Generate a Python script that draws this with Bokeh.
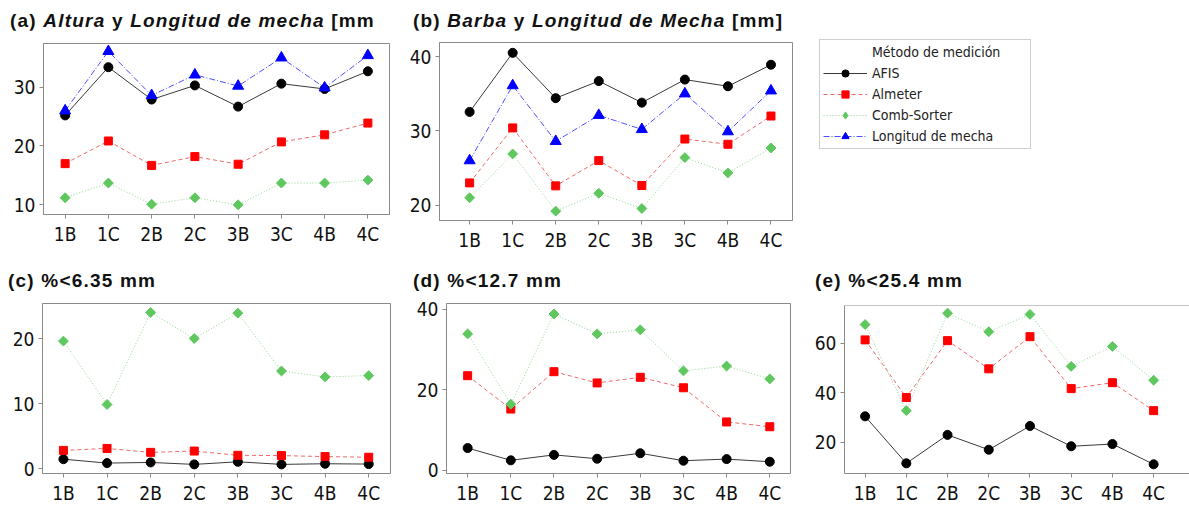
import numpy as np
from bokeh.plotting import figure
from bokeh.models import Range1d, FixedTicker, Div, Legend, LegendItem, Span
from bokeh.layouts import row, column
from bokeh.embed import file_html
from bokeh.resources import INLINE

# ---------------- data ----------------
categories = ["1B", "1C", "2B", "2C", "3B", "3C", "4B", "4C"]
series_names = ["AFIS", "Almeter", "Comb-Sorter", "Longitud de mecha"]
legend_title = "Método de medición"

# (a) Altura y Longitud de mecha [mm]
a_afis = [25.2, 33.4, 27.9, 30.3, 26.7, 30.6, 29.7, 32.7]
a_almeter = [17.0, 20.85, 16.7, 18.2, 16.9, 20.7, 21.9, 23.9]
a_comb = [11.2, 13.7, 10.1, 11.2, 10.0, 13.7, 13.7, 14.2]
a_longitud = [26.0, 36.1, 28.6, 32.1, 30.2, 35.0, 29.9, 35.4]

# (b) Barba y Longitud de Mecha [mm]
b_afis = [32.55, 40.5, 34.4, 36.7, 33.8, 36.9, 36.0, 38.9]
b_almeter = [23.0, 30.4, 22.6, 26.0, 22.65, 28.9, 28.2, 32.0]
b_comb = [21.0, 26.9, 19.2, 21.6, 19.55, 26.4, 24.35, 27.7]
b_longitud = [26.0, 36.1, 28.6, 32.1, 30.2, 35.0, 29.9, 35.4]

# (c) %<6.35 mm
c_afis = [1.45, 0.85, 0.95, 0.65, 1.05, 0.65, 0.75, 0.7]
c_almeter = [2.8, 3.1, 2.5, 2.7, 2.05, 2.0, 1.85, 1.75]
c_comb = [19.6, 9.85, 24.0, 20.0, 23.9, 15.0, 14.1, 14.3]

# (d) %<12.7 mm
d_afis = [5.5, 2.45, 3.8, 2.85, 4.2, 2.35, 2.75, 2.1]
d_almeter = [23.5, 15.2, 24.5, 21.7, 23.1, 20.5, 12.0, 10.8]
d_comb = [33.9, 16.4, 38.85, 33.9, 34.9, 24.7, 25.9, 22.7]

# (e) %<25.4 mm
e_afis = [30.4, 11.4, 22.9, 16.9, 26.5, 18.3, 19.2, 11.0]
e_almeter = [61.3, 38.0, 61.0, 49.6, 62.6, 41.6, 44.0, 32.7]
e_comb = [67.5, 32.7, 72.1, 64.6, 71.6, 50.6, 58.65, 45.0]

a_ticks = [10, 20, 30]
b_ticks = [20, 30, 40]
c_ticks = [0, 10, 20]
d_ticks = [0, 20, 40]
e_ticks = [20, 40, 60]

# ---------------- styles ----------------
FRAME = "#8a8a8a"
TICK_FONT = "DejaVu Sans Condensed"
STYLE = {
    "AFIS": dict(lc="#3a3a3a", dash="solid", marker="circle", lmarker="circle", fill="#000000", size=9, angle=0.0),
    "Almeter": dict(lc="#f06868", dash="4 3", marker="square", lmarker="square", fill="#ff0000", size=8, angle=0.0),
    "Comb-Sorter": dict(lc="#8fd88f", dash="1 2", marker="square", lmarker="diamond", fill="#5ec85e", size=7, angle=np.pi / 4),
    "Longitud de mecha": dict(lc="#5050ff", dash="6 2 1 2", marker="triangle", lmarker="triangle", fill="#0000ff", size=11, angle=0.0),
}


def panel(w, h, bl, br, bt, bb, xr, yr, yticks, data, x_standoff, top_span=False):
    p = figure(width=w, height=h, x_range=Range1d(*xr), y_range=Range1d(*yr),
               output_backend="svg", toolbar_location=None, tools="", title=None, margin=0,
               min_border_left=bl, min_border_right=br, min_border_top=bt, min_border_bottom=bb)
    p.grid.visible = False
    p.background_fill_color = "white"
    if top_span:
        p.outline_line_color = None
        p.add_layout(Span(location=yr[1], dimension="width", line_color=FRAME, line_width=1))
    else:
        p.outline_line_color = FRAME
    xs = list(range(len(categories)))
    for name, vals in data:
        s = STYLE[name]
        p.line(xs, vals, line_color=s["lc"], line_width=1, line_dash=s["dash"])
    for name, vals in data:
        s = STYLE[name]
        p.scatter(xs, vals, marker=s["marker"], size=s["size"], angle=s["angle"],
                  fill_color=s["fill"], line_color=s["fill"])
    p.xaxis.ticker = FixedTicker(ticks=xs)
    p.xaxis.major_label_overrides = {i: c for i, c in enumerate(categories)}
    p.yaxis.ticker = FixedTicker(ticks=yticks)
    for ax in p.axis:
        ax.major_label_text_font = TICK_FONT
        ax.major_label_text_font_size = "19px"
        ax.major_label_text_color = "#111111"
        ax.major_tick_out = 4
        ax.major_tick_in = 0
        ax.minor_tick_line_color = None
        ax.major_tick_line_color = FRAME
        ax.axis_line_color = FRAME
    p.xaxis.major_label_standoff = x_standoff
    p.yaxis.major_label_standoff = 4
    return p


def title_div(html, w, h, pad_top, pad_left):
    style = ("font-family:'Liberation Sans',Arial,sans-serif;font-weight:bold;font-size:19px;"
             "line-height:19px;letter-spacing:1.2px;color:#111;white-space:nowrap;"
             f"padding-top:{pad_top}px;padding-left:{pad_left}px;")
    return Div(text=f'<div style="{style}">{html}</div>', width=w, height=h, margin=0)


# row 1: y 0..260 (title 30 + plot 230); row 2: y 260..506 (title 38 + plot 208)
fa = panel(400, 230, 43, 11, 13, 46, (-0.5, 7.5), (8.35, 37.43), a_ticks,
           [("AFIS", a_afis), ("Almeter", a_almeter), ("Comb-Sorter", a_comb), ("Longitud de mecha", a_longitud)], 4)
fb = panel(400, 230, 39, 8, 12, 40, (-0.7, 7.5), (17.94, 41.89), b_ticks,
           [("AFIS", b_afis), ("Almeter", b_almeter), ("Comb-Sorter", b_comb), ("Longitud de mecha", b_longitud)], 4)
fc = panel(400, 208, 42, 10, 5, 31, (-0.48, 7.5), (-0.75, 25.38), c_ticks,
           [("AFIS", c_afis), ("Almeter", c_almeter), ("Comb-Sorter", c_comb)], 4)
fd = panel(400, 208, 46, 10, 5, 31, (-0.49, 7.48), (-0.83, 41.46), d_ticks,
           [("AFIS", d_afis), ("Almeter", d_almeter), ("Comb-Sorter", d_comb)], 4)
fe = panel(389, 208, 44, 0, 7, 31, (-0.5, 7.87), (7.29, 75.2), e_ticks,
           [("AFIS", e_afis), ("Almeter", e_almeter), ("Comb-Sorter", e_comb)], 4, top_span=True)

da = title_div("(a) <i>Altura</i> y <i>Longitud de mecha</i> [mm", 400, 30, 10.6, 10)
db = title_div("(b) <i>Barba</i> y <i>Longitud de Mecha</i> [mm]", 400, 30, 10.6, 13)
dc = title_div("(c) %&lt;6.35 mm", 400, 38, 10.6, 8)
dd = title_div("(d) %&lt;12.7 mm", 400, 38, 10.6, 13)
de = title_div("(e) %&lt;25.4 mm", 389, 38, 10.6, 15)

# ---------------- legend figure ----------------
# The legend's renderers hold panel (a) data, which lies outside this figure's
# ranges, so only the legend box itself is visible here.
lp = figure(width=389, height=260, x_range=Range1d(0, 1), y_range=Range1d(0, 1),
            output_backend="svg", toolbar_location=None, tools="", title=None, margin=0,
            min_border=0, min_border_left=0, min_border_right=0,
            min_border_top=0, min_border_bottom=0,
            x_axis_location=None, y_axis_location=None)
lp.outline_line_color = None
lp.grid.visible = False
xs_all = list(range(len(categories)))
legend_data = {"AFIS": a_afis, "Almeter": a_almeter, "Comb-Sorter": a_comb, "Longitud de mecha": a_longitud}
r_title = lp.line(x=xs_all, y=a_afis, line_alpha=0)
items = [LegendItem(label=legend_title, renderers=[r_title])]
for name in series_names:
    s = STYLE[name]
    rl = lp.line(x=xs_all, y=legend_data[name], line_color=s["lc"], line_width=1, line_dash=s["dash"])
    rs = lp.scatter(x=xs_all, y=legend_data[name], marker=s["lmarker"], size=s["size"],
                    fill_color=s["fill"], line_color=s["fill"])
    items.append(LegendItem(label=name, renderers=[rl, rs]))
legend = Legend(items=items, location=(19, 111), padding=3, spacing=3,
                glyph_height=18, glyph_width=44, label_height=18, label_standoff=5,
                label_width=155, label_text_font=TICK_FONT, label_text_font_size="14px",
                label_text_color="#222222", border_line_color="#a0a0a0", border_line_width=1,
                background_fill_color="white", background_fill_alpha=1.0, margin=0)
lp.add_layout(legend)

top = row(column(da, fa, margin=0), column(db, fb, margin=0), lp, margin=0)
bottom = row(column(dc, fc, margin=0), column(dd, fd, margin=0), column(de, fe, margin=0), margin=0)
root = column(top, bottom, margin=0)

open("out.html", "w").write(file_html(root, INLINE))
